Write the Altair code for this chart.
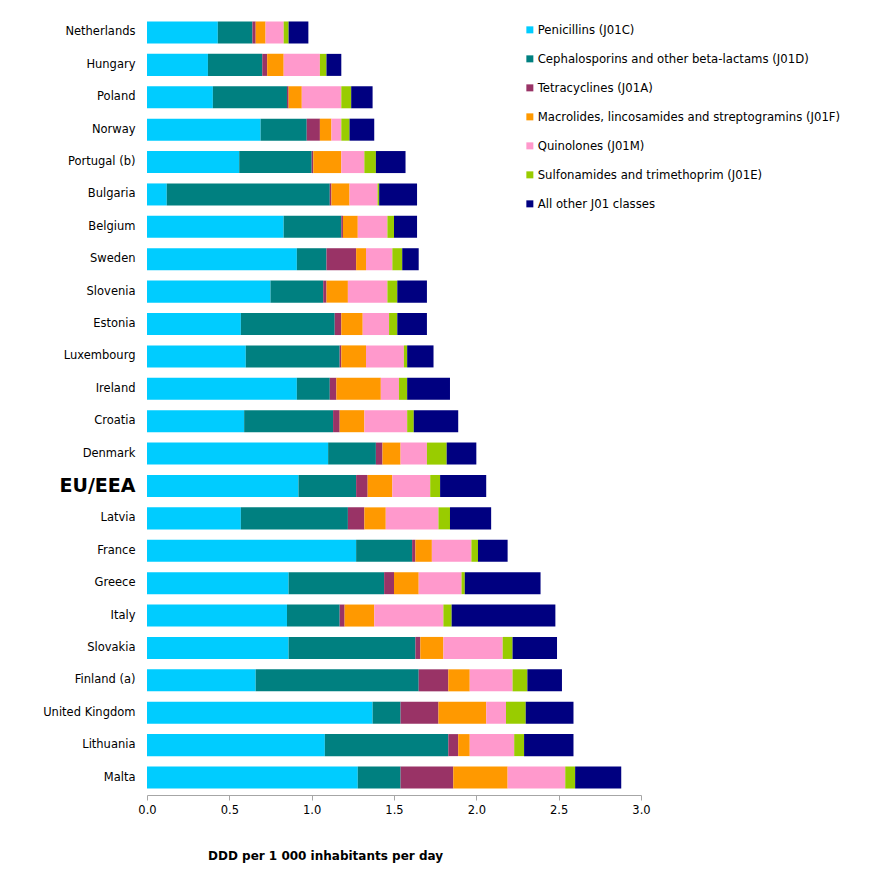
import altair as alt
import pandas as pd

countries = ["Netherlands", "Hungary", "Poland", "Norway", "Portugal (b)", "Bulgaria",
             "Belgium", "Sweden", "Slovenia", "Estonia", "Luxembourg", "Ireland",
             "Croatia", "Denmark", "EU/EEA", "Latvia", "France", "Greece", "Italy",
             "Slovakia", "Finland (a)", "United Kingdom", "Lithuania", "Malta"]

classes = ["Penicillins (J01C)",
           "Cephalosporins and other beta-lactams (J01D)",
           "Tetracyclines (J01A)",
           "Macrolides, lincosamides and streptogramins (J01F)",
           "Quinolones (J01M)",
           "Sulfonamides and trimethoprim (J01E)",
           "All other J01 classes"]

colors = ["#00CCFF", "#008080", "#993366", "#FF9900", "#FF99CC", "#99CC00", "#000080"]

penicillins = [0.43, 0.37, 0.40, 0.69, 0.56, 0.12, 0.83, 0.91, 0.75, 0.57, 0.60, 0.91,
               0.59, 1.10, 0.92, 0.57, 1.27, 0.86, 0.85, 0.86, 0.66, 1.37, 1.08, 1.28]
cephalosporins = [0.21, 0.33, 0.45, 0.28, 0.44, 0.99, 0.35, 0.18, 0.32, 0.57, 0.57, 0.20,
                  0.54, 0.29, 0.35, 0.65, 0.34, 0.58, 0.32, 0.77, 0.99, 0.17, 0.75, 0.26]
tetracyclines = [0.02, 0.03, 0.01, 0.08, 0.01, 0.01, 0.01, 0.18, 0.02, 0.04, 0.01, 0.04,
                 0.04, 0.04, 0.07, 0.10, 0.02, 0.06, 0.03, 0.03, 0.18, 0.23, 0.06, 0.32]
macrolides = [0.06, 0.10, 0.08, 0.07, 0.17, 0.11, 0.09, 0.06, 0.13, 0.13, 0.15, 0.27,
              0.15, 0.11, 0.15, 0.13, 0.10, 0.15, 0.18, 0.14, 0.13, 0.29, 0.07, 0.33]
quinolones = [0.11, 0.22, 0.24, 0.06, 0.14, 0.17, 0.18, 0.16, 0.24, 0.16, 0.23, 0.11,
              0.26, 0.16, 0.23, 0.32, 0.24, 0.26, 0.42, 0.36, 0.26, 0.12, 0.27, 0.35]
sulfonamides = [0.03, 0.04, 0.06, 0.05, 0.07, 0.01, 0.04, 0.06, 0.06, 0.05, 0.02, 0.05,
                0.04, 0.12, 0.06, 0.07, 0.04, 0.02, 0.05, 0.06, 0.09, 0.12, 0.06, 0.06]
other = [0.12, 0.09, 0.13, 0.15, 0.18, 0.23, 0.14, 0.10, 0.18, 0.18, 0.16, 0.26,
         0.27, 0.18, 0.28, 0.25, 0.18, 0.46, 0.63, 0.27, 0.21, 0.29, 0.30, 0.28]

x_ticks = [0.0, 0.5, 1.0, 1.5, 2.0, 2.5, 3.0]

series = [penicillins, cephalosporins, tetracyclines, macrolides, quinolones, sulfonamides, other]

rows = []
for i, c in enumerate(countries):
    for k, (cls, vals) in enumerate(zip(classes, series)):
        rows.append({"country": c, "cls": cls, "k": k, "v": vals[i]})
df = pd.DataFrame(rows)

FONT = "DejaVu Sans"

chart = alt.Chart(df).mark_bar(strokeWidth=0).encode(
    y=alt.Y("country:N", sort=countries, title=None,
            scale=alt.Scale(paddingInner=0.32, paddingOuter=0.2),
            axis=alt.Axis(domain=False, ticks=False, labelPadding=12,
                          labelColor="#000000",
                          labelFontSize={"condition": {"test": "datum.value == 'EU/EEA'", "value": 19}, "value": 11.5},
                          labelFontWeight={"condition": {"test": "datum.value == 'EU/EEA'", "value": "bold"}, "value": "normal"})),
    x=alt.X("v:Q", stack="zero", scale=alt.Scale(domain=[0, 3], nice=False),
            axis=alt.Axis(values=x_ticks, format=".1f", grid=False,
                          domainColor="#A6A6A6", tickColor="#A6A6A6", tickSize=5,
                          labelPadding=4, labelFontSize=11.5, labelColor="#000000",
                          labelFlush=False,
                          title="DDD per 1 000 inhabitants per day",
                          titleFontWeight="bold", titleFontSize=12, titleColor="#000000",
                          titleX=178, titleY=60, titleAlign="center", titleBaseline="middle")),
    color=alt.Color("cls:N", sort=classes,
                    scale=alt.Scale(domain=classes, range=colors),
                    legend=alt.Legend(title=None, orient="none", legendX=377, legendY=9,
                                      symbolType="square", symbolSize=49, symbolStrokeWidth=0,
                                      labelFontSize=11.7, labelColor="#000000", labelOffset=2,
                                      rowPadding=16, labelLimit=400)),
    order=alt.Order("k:Q"),
).properties(
    width=494, height=780,
    padding={"left": 147, "top": 15, "right": 241, "bottom": 76},
    autosize="none",
).configure(font=FONT).configure_view(stroke=None)

chart.save("out.html", embed_options={"renderer": "svg", "actions": False})
